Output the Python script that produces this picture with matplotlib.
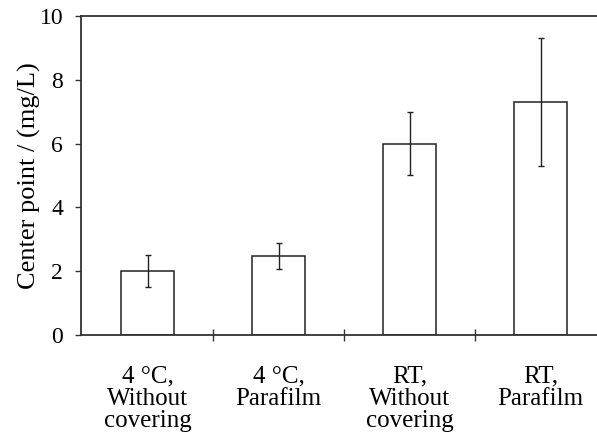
import matplotlib
matplotlib.use("Agg")
import matplotlib.pyplot as plt

# Data
categories = ["4 \u00b0C,\nWithout\ncovering", "4 \u00b0C,\nParafilm",
              "RT,\nWithout\ncovering", "RT,\nParafilm"]
means = [2.0, 2.47, 6.0, 7.3]
errors = [0.5, 0.4, 1.0, 2.0]
yticks = [0, 2, 4, 6, 8, 10]


def main():
    plt.rcParams['font.family'] = ['Liberation Serif', 'DejaVu Serif']
    fig = plt.figure(figsize=(5.97, 4.42), dpi=100)
    ax = fig.add_axes([0.136, 0.242, 0.864, 0.722])

    pos = list(range(len(means)))
    ax.bar(pos, means, width=0.405, color='white', edgecolor='#222222',
           linewidth=1.1, zorder=2)
    ax.errorbar(pos, means, yerr=errors, fmt='none', ecolor='#222222',
                elinewidth=1.0, capsize=2.5, capthick=1.0, zorder=3)

    ax.set_xlim(-0.508, 3.43)
    ax.set_ylim(0, 10)
    ax.set_yticks(yticks)
    ax.set_xticks(pos)
    ax.set_xticklabels(categories, fontsize=18, linespacing=1.02)
    ax.set_xticks([0.5, 1.5, 2.5], minor=True)
    ax.tick_params(axis='x', which='major', length=0, pad=22)
    ax.tick_params(axis='x', which='minor', length=8, direction='inout',
                   width=1.0, color='#333333')
    ax.tick_params(axis='y', labelsize=17, length=4, width=1.0,
                   color='#333333', pad=9)

    ax.set_ylabel('Center point / (mg/L)', fontsize=19, labelpad=-1)

    ax.spines['right'].set_visible(False)
    for s in ['left', 'top', 'bottom']:
        ax.spines[s].set_linewidth(1.3)
        ax.spines[s].set_color('#333333')

    fig.savefig('out.png', dpi=100)


if __name__ == "__main__":
    main()
